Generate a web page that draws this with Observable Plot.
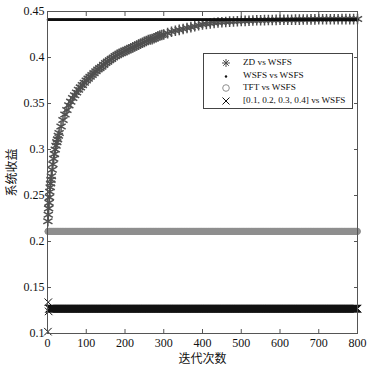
<!DOCTYPE html>
<html><head><meta charset="utf-8">
<script src="https://cdn.jsdelivr.net/npm/d3@7"></script>
<script src="https://cdn.jsdelivr.net/npm/@observablehq/plot@0.6"></script>
<style>
body{margin:0;background:#fff;}
#wrap{position:relative;width:378px;height:365px;}
#legend{position:absolute;left:203px;top:53px;width:148px;height:54px;border:1px solid #444;background:#fff;font-family:"Liberation Serif","Times New Roman",serif;font-size:9.2px;color:#111;}
.row{position:absolute;left:0;height:12px;width:100%;}
.row svg{position:absolute;left:16px;top:0;}
.row span{position:absolute;left:39px;top:0px;white-space:nowrap;}
</style>
</head><body>
<div id="wrap"><div id="legend"></div></div>
<script>
// ---- data ----
const xTicks = [0, 100, 200, 300, 400, 500, 600, 700, 800];
const yTicks = [0.1, 0.15, 0.2, 0.25, 0.3, 0.35, 0.4, 0.45];
const seriesNames = ["ZD vs WSFS", "WSFS vs WSFS", "TFT vs WSFS", "[0.1, 0.2, 0.3, 0.4] vs WSFS"];
const firstIter = 1, lastIter = 800;

// ZD vs WSFS
const zdIter = [1,2,3,4,5,6,7,8,9,10,
  12,14,16,18,20,22,24,26,28,30,
  35,40,45,50,55,60,65,70,75,80,85,90,95,100,
  105,110,115,120,125,130,135,140,145,150,
  155,160,165,170,175,180,185,190,195,200,
  205,210,215,220,225,230,235,240,245,250,
  255,260,265,270,275,280,285,290,295,300,
  310,320,330,340,350,360,370,380,390,400,
  410,420,430,440,450,460,470,480,490,500,
  510,520,530,540,550,560,570,580,590,600,
  610,620,630,640,650,660,670,680,690,700,
  710,720,730,740,750,760,770,780,790,800];
const zdValue = [0.222,0.229,0.236,0.242,0.248,0.254,0.259,0.263,0.267,0.271,
  0.278,0.284,0.290,0.295,0.300,0.304,0.308,0.311,0.315,0.318,
  0.325,0.332,0.338,0.343,0.348,0.352,0.356,0.359,0.362,0.365,0.3675,0.370,0.3725,0.375,
  0.377,0.379,0.381,0.383,0.385,0.387,0.3885,0.390,0.392,0.394,
  0.3955,0.397,0.3985,0.400,0.4015,0.403,0.404,0.405,0.406,0.407,
  0.408,0.409,0.410,0.411,0.412,0.413,0.414,0.415,0.416,0.417,
  0.418,0.419,0.4195,0.420,0.421,0.422,0.423,0.424,0.4245,0.425,
  0.4265,0.428,0.429,0.430,0.431,0.432,0.433,0.434,0.435,0.436,
  0.4365,0.437,0.4375,0.438,0.4383,0.4386,0.439,0.4392,0.4394,0.4396,
  0.4398,0.440,0.4402,0.4404,0.4405,0.4406,0.4407,0.4408,0.4409,0.441,
  0.441,0.4411,0.4411,0.4412,0.4412,0.4413,0.4413,0.4414,0.4414,0.4415,
  0.4415,0.4415,0.4416,0.4416,0.4416,0.4417,0.4417,0.4417,0.4417,0.4418];

// WSFS vs WSFS, TFT vs WSFS: constant
const wsfsValue = 0.441;
const tftValue = 0.211;
// [0.1,0.2,0.3,0.4] vs WSFS: first iterations differ, then constant
const fixedStartValues = [0.102, 0.134, 0.124];
const fixedValue = 0.127;

// ---- tables ----
const iters = d3.range(firstIter, lastIter + 1);
const zd = zdIter.map((it, i) => ({iter: it, value: zdValue[i]}));
const wsfs = iters.map(it => ({iter: it, value: wsfsValue}));
const tft = iters.map(it => ({iter: it, value: tftValue}));
const fixed = iters.map((it, i) => ({iter: it, value: i < fixedStartValues.length ? fixedStartValues[i] : fixedValue}));

const font = "Liberation Serif, Noto Sans CJK SC, serif";
const chart = Plot.plot({
  width: 378, height: 365,
  marginLeft: 47, marginRight: 21, marginTop: 11, marginBottom: 32,
  style: {fontFamily: font, fontSize: "12px", color: "#111", background: "transparent", overflow: "visible"},
  x: {domain: [0, 800]},
  y: {domain: [0.1, 0.45]},
  marks: [
    Plot.dot(zd, {x: "iter", y: "value", symbol: "asterisk", r: 5, stroke: "#505050", strokeWidth: 1.5}),
    Plot.dot(wsfs, {x: "iter", y: "value", r: 1.2, fill: "#111", stroke: null}),
    Plot.dot(tft, {x: "iter", y: "value", symbol: "circle", r: 3, stroke: "#8e8e8e", strokeWidth: 1}),
    Plot.dot(fixed, {x: "iter", y: "value", symbol: "times", r: 3.5, stroke: "#111", strokeWidth: 1}),
    Plot.frame({stroke: "#555"}),
    Plot.axisX({ticks: xTicks, anchor: "bottom", tickSize: 0, tickPadding: 5, tickFormat: d => String(d),
      label: "迭代次数", labelAnchor: "center", labelArrow: "none", labelOffset: 29}),
    Plot.axisY({ticks: yTicks, anchor: "left", tickSize: 0, tickPadding: 3, tickFormat: d3.format("~g"),
      label: "系统收益", labelAnchor: "center", labelArrow: "none", labelOffset: 40}),
    Plot.axisX({ticks: xTicks, anchor: "bottom", tickSize: -4, tickFormat: () => "", label: null, stroke: "#555"}),
    Plot.axisX({ticks: xTicks, anchor: "top", tickSize: -4, tickFormat: () => "", label: null, stroke: "#555"}),
    Plot.axisY({ticks: yTicks, anchor: "left", tickSize: -4, tickFormat: () => "", label: null, stroke: "#555"}),
    Plot.axisY({ticks: yTicks, anchor: "right", tickSize: -4, tickFormat: () => "", label: null, stroke: "#555"})
  ]
});
const wrap = document.getElementById("wrap");
wrap.insertBefore(chart, wrap.firstChild);

// legend
const legendIcons = [
  '<svg width="12" height="12"><g stroke="#4a4a4a" stroke-width="1"><line x1="6" y1="2" x2="6" y2="10"/><line x1="2" y1="6" x2="10" y2="6"/><line x1="3.2" y1="3.2" x2="8.8" y2="8.8"/><line x1="3.2" y1="8.8" x2="8.8" y2="3.2"/></g></svg>',
  '<svg width="12" height="12"><circle cx="6" cy="6.5" r="1.2" fill="#111"/></svg>',
  '<svg width="12" height="12"><circle cx="6" cy="6" r="3.3" fill="none" stroke="#8e8e8e"/></svg>',
  '<svg width="12" height="12"><g stroke="#111"><line x1="2.5" y1="2.5" x2="9.5" y2="9.5"/><line x1="2.5" y1="9.5" x2="9.5" y2="2.5"/></g></svg>'
];
const lg = document.getElementById("legend");
seriesNames.forEach((name, i) => {
  const row = document.createElement("div");
  row.className = "row";
  row.style.top = (3 + i * 12.6) + "px";
  row.innerHTML = legendIcons[i] + "<span>" + name + "</span>";
  lg.appendChild(row);
});
</script>
</body></html>
